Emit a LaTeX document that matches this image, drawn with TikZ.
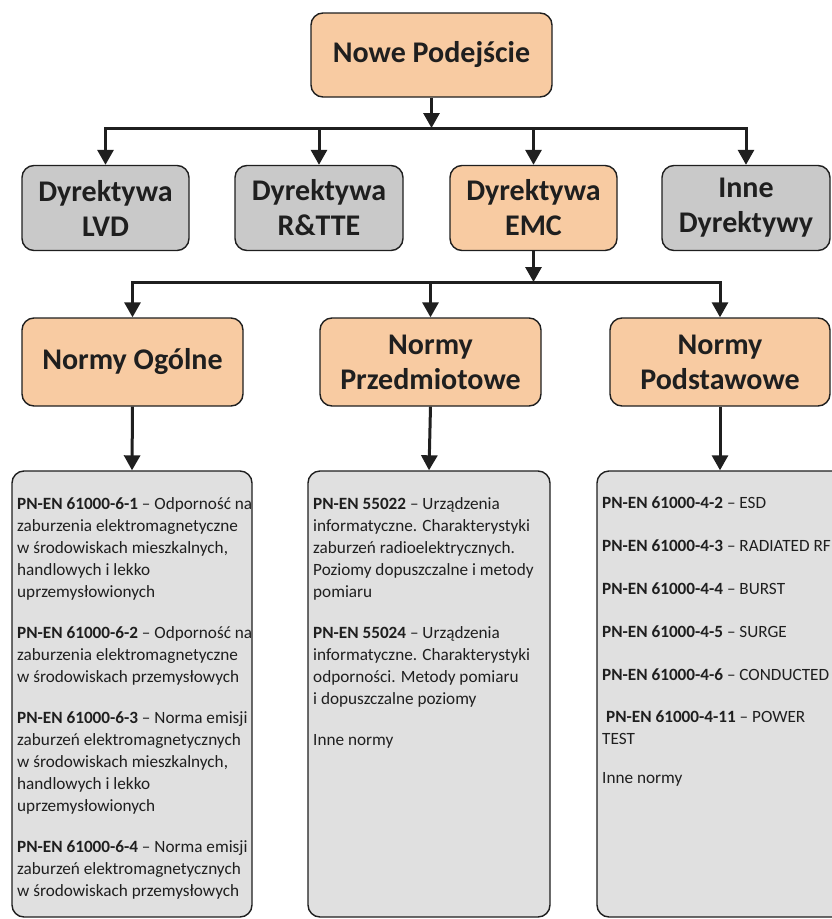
\documentclass[tikz,border=0pt]{standalone}
\usepackage{fontspec}
\setmainfont{Carlito}
\usetikzlibrary{arrows.meta}
\definecolor{orangefill}{HTML}{F8CBA2}
\definecolor{grayfill}{HTML}{C9C9C9}
\definecolor{boxfill}{HTML}{E0E0E0}
\definecolor{edgecol}{HTML}{1F1F1F}
\begin{document}
\begin{tikzpicture}[x=1pt,y=-1pt,
  titlebox/.style={draw=edgecol, line width=1.4pt, rounded corners=12pt, align=center,
    inner sep=0pt, font=\bfseries\fontsize{30}{35}\selectfont, text=edgecol},
  orangebox/.style={titlebox, fill=orangefill},
  graybox/.style={titlebox, fill=grayfill},
  textbox/.style={draw=edgecol, line width=1.4pt, rounded corners=12pt, fill=boxfill, inner sep=0pt},
  bodytext/.style={align=left, anchor=north west, inner sep=0pt, font=\fontsize{17.2}{22}\selectfont, text=edgecol},
  conn/.style={draw=edgecol, line width=3pt},
  arr/.style={conn, -{Triangle[width=16pt,length=15pt]}}
]
\useasboundingbox (0,0) rectangle (832,919);
\clip (0,0) rectangle (832,919);

% top
\node[orangebox, minimum width=241pt, minimum height=84pt] (nowe) at (431.5,55) {Nowe Podejście};

% row 2
\node[graybox, minimum width=167pt, minimum height=85pt] (lvd) at (105.5,208) {Dyrektywa\\LVD};
\node[graybox, minimum width=168pt, minimum height=85pt] (rtte) at (319,208) {Dyrektywa\\R\&TTE};
\node[orangebox, minimum width=167pt, minimum height=85pt] (emc) at (533.5,208) {Dyrektywa\\EMC};
\node[graybox, minimum width=168pt, minimum height=85pt] (inne) at (746,208) {Inne\\Dyrektywy};

% row 3
\node[orangebox, minimum width=221pt, minimum height=88pt] (ogolne) at (132.5,362) {Normy Ogólne};
\node[orangebox, minimum width=221pt, minimum height=88pt] (przed) at (430.5,362) {Normy\\Przedmiotowe};
\node[orangebox, minimum width=220pt, minimum height=88pt] (podst) at (720,362) {Normy\\Podstawowe};

% text boxes
\node[textbox, minimum width=240pt, minimum height=446pt] (tb1) at (132,694) {};
\node[textbox, minimum width=242pt, minimum height=446pt] (tb2) at (429,694) {};
\node[textbox, minimum width=250pt, minimum height=446pt] (tb3) at (722,694) {};

% connectors level 1
\coordinate (bar1) at (431.5,128);
\draw[arr] (nowe.south) -- (bar1);
\draw[arr] (bar1) -- (lvd.north |- bar1) -- (lvd.north);
\draw[arr] (bar1) -- (inne.north |- bar1) -- (inne.north);
\draw[arr] (rtte.north |- bar1) -- (rtte.north);
\draw[arr] (emc.north |- bar1) -- (emc.north);

% connectors level 2
\coordinate (bar2) at (533.5,282);
\draw[arr] (emc.south) -- (bar2);
\draw[arr] (bar2) -- (ogolne.north |- bar2) -- (ogolne.north);
\draw[arr] (bar2) -- (podst.north |- bar2) -- (podst.north);
\draw[arr] (przed.north |- bar2) -- (przed.north);

% connectors level 3
\draw[arr] (ogolne.south) -- (tb1.north);
\draw[arr] (przed.south) -- (tb2.north);
\draw[arr] (podst.south) -- (tb3.north -| podst.south);

% texts
\node[bodytext] (t1) at (17,497) {\textbf{PN-EN 61000-6-1} – Odporność na\\
zaburzenia elektromagnetyczne\\
w środowiskach mieszkalnych,\\
handlowych i lekko\\
uprzemysłowionych\\[19pt]
\textbf{PN-EN 61000-6-2} – Odporność na\\
zaburzenia elektromagnetyczne\\
w środowiskach przemysłowych\\[19pt]
\textbf{PN-EN 61000-6-3} – Norma emisji\\
zaburzeń elektromagnetycznych\\
w środowiskach mieszkalnych,\\
handlowych i lekko\\
uprzemysłowionych\\[19pt]
\textbf{PN-EN 61000-6-4} – Norma emisji\\
zaburzeń elektromagnetycznych\\
w środowiskach przemysłowych};

\node[bodytext] (t2) at (313,497) {\textbf{PN-EN 55022} – Urządzenia\\
informatyczne. Charakterystyki\\
zaburzeń radioelektrycznych.\\
Poziomy dopuszczalne i metody\\
pomiaru\\[19pt]
\textbf{PN-EN 55024} – Urządzenia\\
informatyczne. Charakterystyki\\
odporności. Metody pomiaru\\
i dopuszczalne poziomy\\[19pt]
Inne normy};

\node[bodytext] (t3) at (602,497) {\textbf{PN-EN 61000-4-2} – ESD\\[20.8pt]
\textbf{PN-EN 61000-4-3} – RADIATED RF\\[20.8pt]
\textbf{PN-EN 61000-4-4} – BURST\\[20.8pt]
\textbf{PN-EN 61000-4-5} – SURGE\\[20.8pt]
\textbf{PN-EN 61000-4-6} – CONDUCTED\\[20.8pt]
\hspace*{4pt}\textbf{PN-EN 61000-4-11} – POWER\\
TEST\\[17pt]
Inne normy};
\end{tikzpicture}
\end{document}
